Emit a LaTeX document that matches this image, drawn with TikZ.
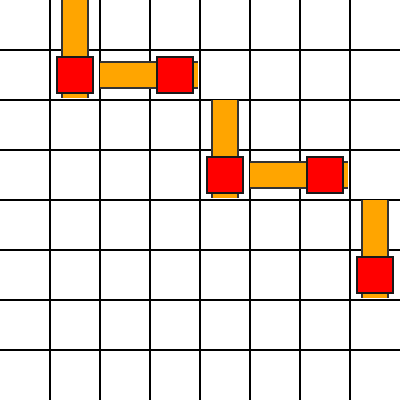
\documentclass[tikz,border=0pt]{standalone}
\begin{document}
\begin{tikzpicture}[x=1pt,y=-1pt,
  gridline/.style={black,line width=1.2pt},
  barfill/.style={fill={rgb,255:red,255;green,165;blue,0}},
  baredge/.style={draw=black!80,line width=2pt},
  tile/.style={draw=black!90,line width=2pt,fill={rgb,255:red,255;green,0;blue,0},minimum size=36.5pt,inner sep=0pt,outer sep=0pt}]
\useasboundingbox[fill=white] (0,0) rectangle (400,400);
% grid
\foreach \k in {50,100,...,350}{
  \draw[gridline] (\k,0) -- (\k,400);
  \draw[gridline] (0,\k) -- (400,\k);
}
% bars: vertical
\foreach \xa/\ya/\yb in {62/0/98, 212/100/198, 362/200/298}{
  \fill[barfill] (\xa,\ya) rectangle (\xa+26,\yb);
  \draw[baredge] (\xa,\ya) -- (\xa,\yb);
  \draw[baredge] (\xa+26,\ya) -- (\xa+26,\yb);
}
% bars: horizontal
\foreach \ya/\xa/\xb in {62/100/198, 162/250/348}{
  \fill[barfill] (\xa,\ya) rectangle (\xb,\ya+26);
  \draw[baredge] (\xa,\ya) -- (\xb,\ya);
  \draw[baredge] (\xa,\ya+26) -- (\xb,\ya+26);
}
% tiles
\node[tile] (t1) at (75,75) {};
\node[tile] (t2) at (175,75) {};
\node[tile] (t3) at (225,175) {};
\node[tile] (t4) at (325,175) {};
\node[tile] (t5) at (375,275) {};
\end{tikzpicture}
\end{document}
